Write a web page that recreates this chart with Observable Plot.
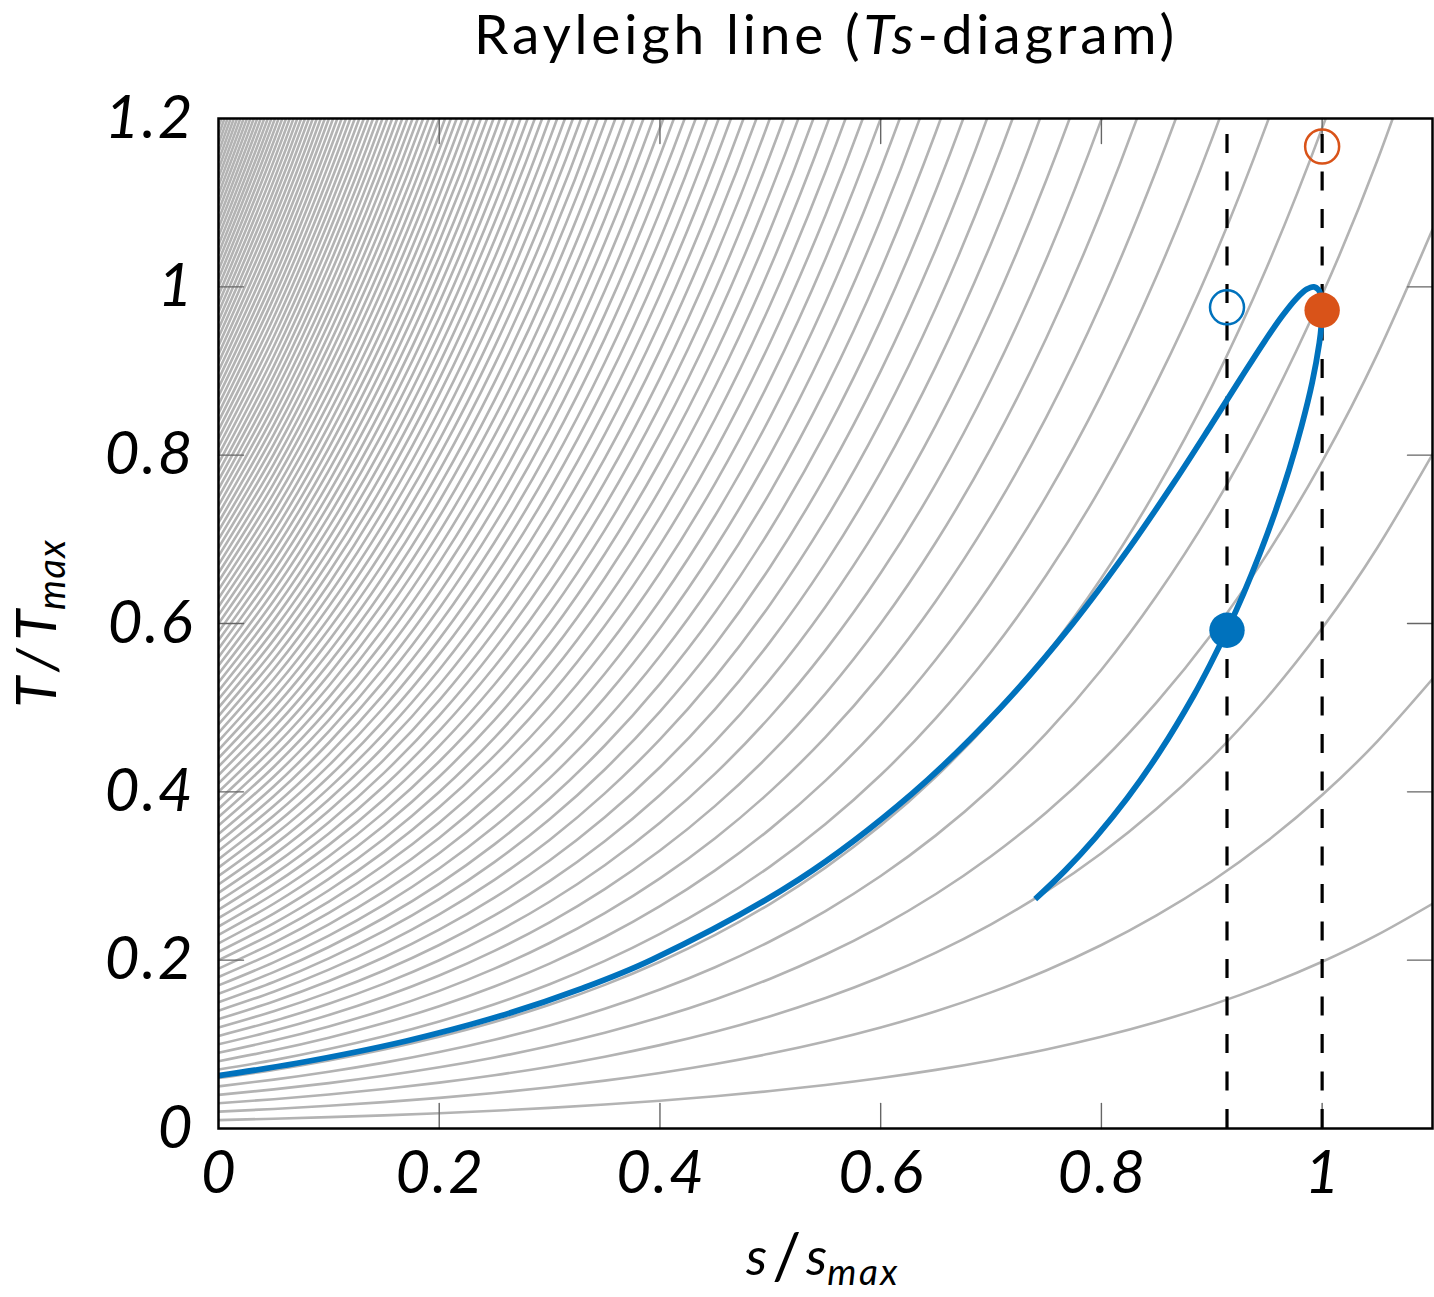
<!DOCTYPE html>
<html>
<head>
<meta charset="utf-8">
<script src="https://cdn.jsdelivr.net/npm/d3@7"></script>
<script src="https://cdn.jsdelivr.net/npm/@observablehq/plot@0.6"></script>
<style>
html, body { margin: 0; padding: 0; background: #fff; }
#title {
  width: 1434px; height: 90px; box-sizing: border-box;
  padding-left: 218px; text-align: center;
  font-family: Lato, sans-serif; font-size: 55px; line-height: 66px;
  letter-spacing: 3.8px;
  color: #000; white-space: nowrap;
}
#chart svg { display: block; }
</style>
</head>
<body>
<div id="title">Rayleigh line (<i>Ts</i>-diagram)</div>
<div id="chart"></div>
<script>
// ---------------- data ----------------
// axis domains and ticks
const xDomain = [0, 1.1];
const yDomain = [0, 1.2];
const xTicks = [0, 0.2, 0.4, 0.6, 0.8, 1.0];
const xTickLabels = ["0", "0.2", "0.4", "0.6", "0.8", "1"];
const yTicks = [0, 0.2, 0.4, 0.6, 0.8, 1.0, 1.2];
const yTickLabels = ["0", "0.2", "0.4", "0.6", "0.8", "1", "1.2"];

// isobars (gray): temperature at s = 0 of each isobar
const isobarStart = [
  0.01,0.02,0.03,0.04,0.05,0.06,0.07,0.08,0.09,0.10,
  0.11,0.12,0.13,0.14,0.15,0.16,0.17,0.18,0.19,0.20,
  0.21,0.22,0.23,0.24,0.25,0.26,0.27,0.28,0.29,0.30,
  0.31,0.32,0.33,0.34,0.35,0.36,0.37,0.38,0.39,0.40,
  0.41,0.42,0.43,0.44,0.45,0.46,0.47,0.48,0.49,0.50,
  0.51,0.52,0.53,0.54,0.55,0.56,0.57,0.58,0.59,0.60,
  0.61,0.62,0.63,0.64,0.65,0.66,0.67,0.68,0.69,0.70,
  0.71,0.72,0.73,0.74,0.75,0.76,0.77,0.78,0.79,0.80,
  0.81,0.82,0.83,0.84,0.85,0.86,0.87,0.88,0.89,0.90,
  0.91,0.92,0.93,0.94,0.95,0.96,0.97,0.98,0.99,1.00,
  1.01,1.02,1.03,1.04,1.05,1.06,1.07,1.08,1.09,1.10,
  1.11,1.12,1.13,1.14,1.15,1.16,1.17,1.18,1.19,1.20
];
// common shape of every isobar: T(s) / T(0), read along the s axis
const isobarS      = [0, 0.05, 0.10, 0.15, 0.20, 0.25, 0.30, 0.35, 0.40, 0.45, 0.50, 0.55,
                      0.60, 0.65, 0.70, 0.75, 0.80, 0.85, 0.90, 0.95, 1.00, 1.05, 1.10];
const isobarGrowth = [1, 1.161, 1.348, 1.565, 1.817, 2.110, 2.449, 2.844, 3.302, 3.833, 4.450, 5.167,
                      5.999, 6.965, 8.087, 9.389, 10.90, 12.66, 14.69, 17.06, 19.81, 23.00, 26.70];

// Rayleigh line (blue), subsonic branch up to the sonic point then supersonic branch
const rayleighS = [0, 0.0710, 0.1702, 0.2550, 0.3286, 0.3933, 0.5259, 0.6281, 0.7086, 0.7729,
                   0.8245, 0.8661, 0.8995, 0.9262, 0.9473, 0.9638, 0.9765, 0.9859, 0.9925, 0.9969,
                   0.9993, 1.0000,
                   0.9993, 0.9975, 0.9910, 0.9815, 0.9701, 0.9572, 0.9433, 0.9288, 0.9138, 0.8987,
                   0.8835, 0.8532, 0.8235, 0.7946, 0.7668, 0.7400];
const rayleighT = [0.0628, 0.0775, 0.1040, 0.1336, 0.1660, 0.2009, 0.2959, 0.3975, 0.4999, 0.5981,
                   0.6884, 0.7682, 0.8360, 0.8912, 0.9341, 0.9653, 0.9859, 0.9970, 1.0000, 0.9961,
                   0.9865, 0.9722,
                   0.9543, 0.9336, 0.8865, 0.8353, 0.7830, 0.7316, 0.6822, 0.6356, 0.5920, 0.5516,
                   0.5142, 0.4483, 0.3926, 0.3457, 0.3061, 0.2725];

// marked states: state 1 (blue) and sonic state (orange)
const stateS = [0.9138, 1.0];
const stateT = [0.5920, 0.9722];
const stagnationT = [0.9757, 1.1667];
const stateColor = ["#0072BD", "#D95319"];

// ---------------- build tables ----------------
const isoRows = [];
isobarStart.forEach((t0, k) => {
  let beyond = 0;
  for (let j = 0; j < isobarS.length; j++) {
    const T = t0 * isobarGrowth[j];
    isoRows.push({id: k, s: isobarS[j], T});
    if (T > yDomain[1]) { beyond++; if (beyond >= 2) break; }
  }
});
const rayRows = rayleighS.map((s, i) => ({s, T: rayleighT[i]}));
const states = stateS.map((s, i) => ({s, T: stateT[i], T0: stagnationT[i], color: stateColor[i]}));

const tickShape = {draw(ctx, l) { ctx.moveTo(0, 0); ctx.lineTo(0, -l); }};
const innerX = xTicks.filter(d => d > xDomain[0] && d < xDomain[1]);
const innerY = yTicks.filter(d => d > yDomain[0] && d < yDomain[1]);
const tickStyle = {length: 25, anchor: "start", shape: tickShape, stroke: "#666", strokeWidth: 1.4};

const W = 1434, H = 1207;
const chart = Plot.plot({
  width: W, height: H,
  marginLeft: 218, marginRight: 2, marginTop: 28, marginBottom: 169,
  x: {domain: xDomain},
  y: {domain: yDomain},
  style: {fontFamily: "Lato, sans-serif", fontStyle: "italic", fontSize: "60px", letterSpacing: "2px",
          color: "#000", background: "#fff", overflow: "visible"},
  marks: [
    Plot.line(isoRows, {x: "s", y: "T", z: "id", stroke: "#b3b3b3", strokeWidth: 2.6, curve: "natural", clip: true}),
    Plot.vector(innerX, {x: d => d, frameAnchor: "bottom", rotate: 0, ...tickStyle}),
    Plot.vector(innerX, {x: d => d, frameAnchor: "top", rotate: 180, ...tickStyle}),
    Plot.vector(innerY, {y: d => d, frameAnchor: "left", rotate: 90, ...tickStyle}),
    Plot.vector(innerY, {y: d => d, frameAnchor: "right", rotate: -90, ...tickStyle}),
    Plot.ruleX(states, {x: "s", y1: () => yDomain[0], y2: () => yDomain[1], stroke: "#000", strokeWidth: 3.2, strokeDasharray: "19,18.5"}),
    Plot.line(rayRows, {x: "s", y: "T", stroke: "#0072BD", strokeWidth: 5.8, curve: "catmull-rom", strokeLinecap: "butt"}),
    Plot.dot(states, {x: "s", y: "T", r: 17.7, fill: "color", stroke: "none"}),
    Plot.dot(states, {x: "s", y: "T0", r: 17, fill: "none", stroke: "color", strokeWidth: 2.5}),
    Plot.frame({stroke: "#000", strokeWidth: 2.5}),
    Plot.axisX(xTicks, {anchor: "bottom", tickSize: 0, tickPadding: 22, label: null, dx: 1,
      tickFormat: d => xTickLabels[xTicks.indexOf(d)]}),
    Plot.axisY(yTicks, {anchor: "left", tickSize: 0, tickPadding: 24, label: null,
      tickFormat: d => yTickLabels[yTicks.indexOf(d)]})
  ]
});
document.getElementById("chart").appendChild(chart);

// axis titles with subscripts
const svg = d3.select(chart);
const xl = svg.append("text")
  .attr("x", 823).attr("y", 1185)
  .attr("text-anchor", "middle")
  .style("font-family", "Lato, sans-serif").style("font-style", "italic")
  .style("font-size", "53px").style("letter-spacing", "0px");
xl.append("tspan").text("s");
xl.append("tspan").attr("dx", 5).style("font-style", "normal").style("font-size", "64px").attr("dy", 4).text("/");
xl.append("tspan").attr("dx", 5).attr("dy", -4).text("s");
xl.append("tspan").attr("dy", 10).style("font-size", "37px").style("letter-spacing", "2.5px").text("max");

const yl = svg.append("text")
  .attr("transform", "translate(56,533) rotate(-90)")
  .attr("text-anchor", "middle")
  .style("font-family", "Lato, sans-serif").style("font-style", "italic")
  .style("font-size", "56px").style("letter-spacing", "0px");
yl.append("tspan").text("T");
yl.append("tspan").attr("dx", 8).text("/");
yl.append("tspan").attr("dx", 8).text("T");
yl.append("tspan").attr("dy", 9).style("font-size", "38px").style("letter-spacing", "1.5px").text("max");
</script>
</body>
</html>
